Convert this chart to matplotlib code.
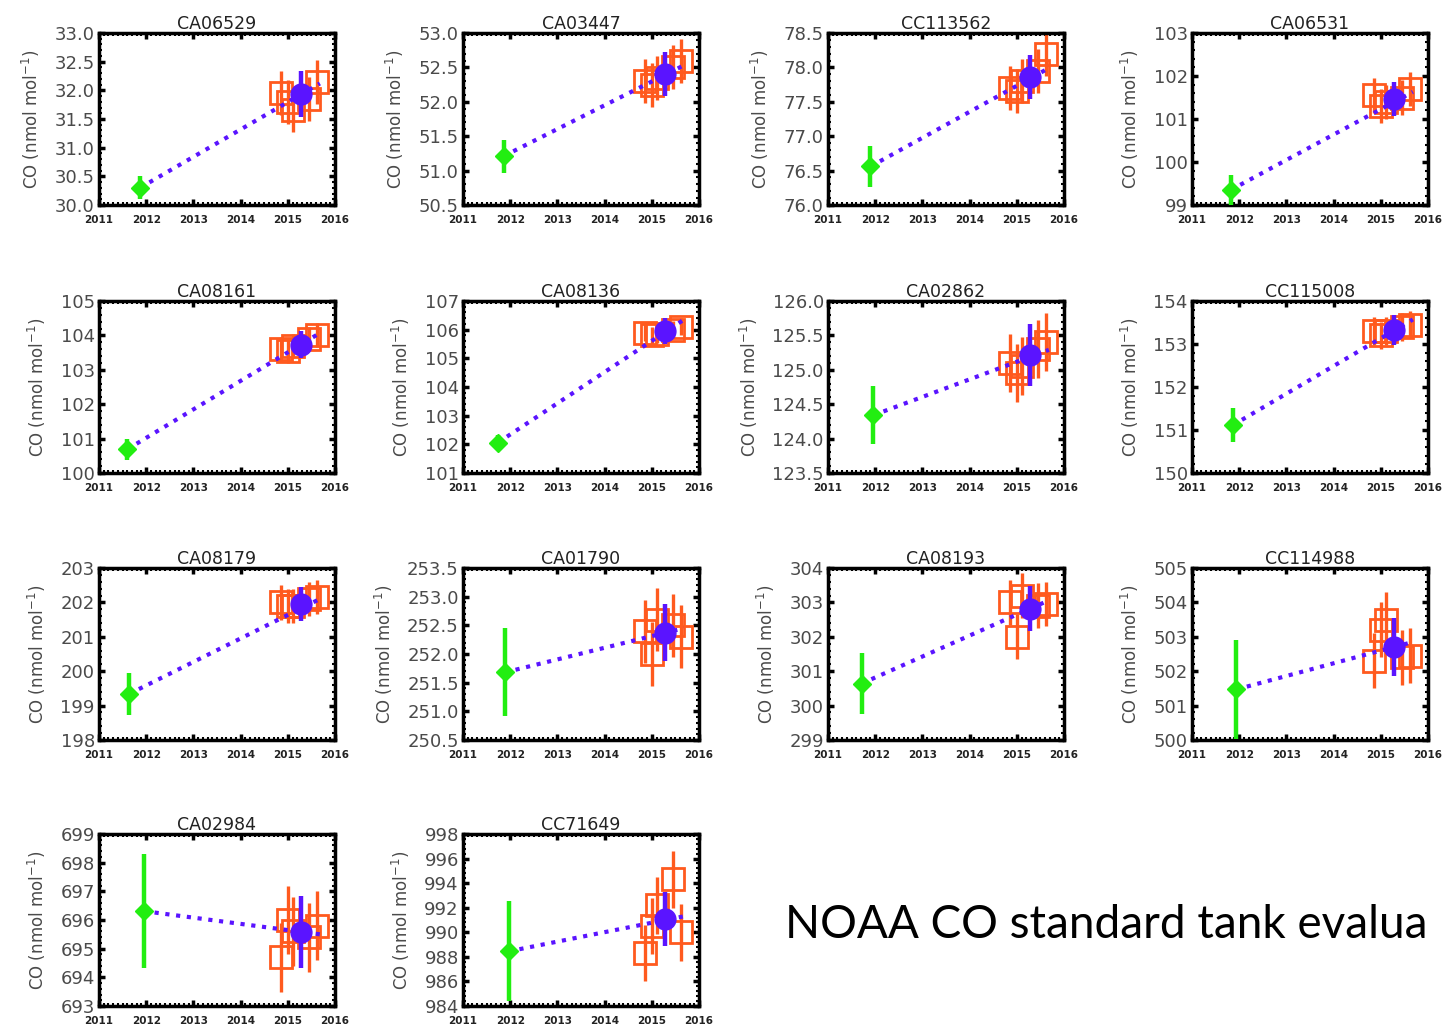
import matplotlib
matplotlib.use("Agg")
import matplotlib.pyplot as plt
import numpy as np
from matplotlib.ticker import MultipleLocator, FormatStrFormatter, AutoMinorLocator

TANKS = ["CA06529", "CA03447", "CC113562", "CA06531",
         "CA08161", "CA08136", "CA02862", "CC115008",
         "CA08179", "CA01790", "CA08193", "CC114988",
         "CA02984", "CC71649"]

YLIM_LO = [30.0, 50.5, 76.0, 99, 100, 101, 123.5, 150, 198, 250.5, 299, 500, 693, 984]
YLIM_HI = [33.0, 53.0, 78.5, 103, 105, 107, 126.0, 154, 203, 253.5, 304, 505, 699, 998]
YTICK_STEP = [0.5, 0.5, 0.5, 1, 1, 1, 0.5, 1, 1, 0.5, 1, 1, 1, 2]
YTICK_DEC = [1, 1, 1, 0, 0, 0, 1, 0, 0, 1, 0, 0, 0, 0]

GREEN_X = [2011.87, 2011.86, 2011.9, 2011.82, 2011.6, 2011.74, 2011.96, 2011.86,
           2011.64, 2011.89, 2011.71, 2011.94, 2011.95, 2011.97]
GREEN_Y = [30.3, 51.21, 76.56, 99.35, 100.69, 102.06, 124.34, 151.11,
           199.34, 251.68, 300.64, 501.47, 696.31, 988.45]
GREEN_ERR = [0.2, 0.24, 0.3, 0.35, 0.3, 0.25, 0.42, 0.4,
             0.6, 0.77, 0.88, 1.45, 2.0, 4.07]

BLUE_X = 2015.27
BLUE_Y = [31.93, 52.41, 77.86, 101.47, 103.73, 105.94, 125.22, 153.33,
          201.95, 252.37, 302.82, 502.7, 695.57, 991.07]
BLUE_ERR = [0.4, 0.32, 0.32, 0.4, 0.4, 0.45, 0.45, 0.35,
            0.5, 0.5, 0.65, 0.85, 1.25, 2.2]

ORANGE_X = [2014.85, 2015.0, 2015.12, 2015.45, 2015.62]
ORANGE_Y = [
    [31.95, 31.8, 31.65, 31.85, 32.15],
    [52.3, 52.25, 52.35, 52.5, 52.6],
    [77.7, 77.65, 77.8, 77.95, 78.2],
    [101.55, 101.3, 101.4, 101.5, 101.7],
    [103.6, 103.55, 103.7, 103.9, 104.0],
    [105.9, 105.8, 105.85, 106.0, 106.1],
    [125.1, 124.95, 125.05, 125.3, 125.4],
    [153.3, 153.2, 153.3, 153.4, 153.45],
    [202.0, 201.9, 201.9, 202.1, 202.15],
    [252.4, 252.0, 252.6, 252.5, 252.3],
    [303.0, 302.0, 303.2, 302.9, 302.95],
    [502.3, 503.2, 503.5, 502.4, 502.45],
    [694.7, 696.0, 695.6, 695.4, 695.8],
    [988.3, 990.5, 992.2, 994.3, 990.0],
]
ORANGE_ERR = [0.38, 0.32, 0.32, 0.4, 0.35, 0.3, 0.42, 0.32,
              0.5, 0.55, 0.65, 0.8, 1.2, 2.3]

LINE_END_X = 2015.68
LINE_END_Y = [32.12, 52.53, 77.99, 101.63, 104.07, 106.35, 125.29, 153.57,
              202.1, 252.45, 303.06, 502.85, 695.5, 991.3]

XTICKS = [2011, 2012, 2013, 2014, 2015, 2016]

GREEN = "#22ee11"
BLUE = "#5a14ff"
ORANGE = "#ff5a1e"
GRAY = "#4a4a4a"

W, H = 1448, 1032
fig = plt.figure(figsize=(W / 100, H / 100), dpi=100)

col_left = [99, 463, 828, 1192]
row_top = [33, 301, 568, 834]
aw, ah = 236, 172

for i, name in enumerate(TANKS):
    r, c = divmod(i, 4)
    l = col_left[c]
    t = row_top[r]
    ax = fig.add_axes([l / W, 1 - (t + ah) / H, aw / W, ah / H])

    ax.plot([GREEN_X[i], LINE_END_X], [GREEN_Y[i], LINE_END_Y[i]],
            linestyle=(0, (1, 1.6)), color=BLUE, lw=3, zorder=3)

    for ox, oy in zip(ORANGE_X, ORANGE_Y[i]):
        ax.errorbar(ox, oy, yerr=ORANGE_ERR[i], fmt="s", ms=16, mfc="none",
                    mec=ORANGE, mew=2, ecolor=ORANGE, elinewidth=2.4,
                    capsize=0, zorder=2)

    ax.errorbar(GREEN_X[i], GREEN_Y[i], yerr=GREEN_ERR[i], fmt="D", ms=9,
                color=GREEN, mec=GREEN, ecolor=GREEN, elinewidth=3.2,
                capsize=0, zorder=4)
    ax.errorbar(BLUE_X, BLUE_Y[i], yerr=BLUE_ERR[i], fmt="o", ms=15,
                color=BLUE, mec=BLUE, ecolor=BLUE, elinewidth=3.2,
                capsize=0, zorder=5)

    ax.set_xlim(2011, 2016)
    ax.set_ylim(YLIM_LO[i], YLIM_HI[i])
    ax.set_xticks(XTICKS)
    ax.set_xticklabels([str(x) for x in XTICKS], fontsize=7.5, color="#222222",
                       fontweight="bold")
    ax.yaxis.set_major_locator(MultipleLocator(YTICK_STEP[i]))
    ax.yaxis.set_major_formatter(FormatStrFormatter("%%.%df" % YTICK_DEC[i]))
    ax.xaxis.set_minor_locator(AutoMinorLocator(10))
    ax.yaxis.set_minor_locator(AutoMinorLocator(5))
    ax.tick_params(axis="both", which="major", direction="in", length=4,
                   width=2.5, top=True, right=True, color="black")
    ax.tick_params(axis="both", which="minor", direction="in", length=2,
                   width=1.5, top=True, right=True, color="black")
    ax.tick_params(axis="y", labelsize=13, labelcolor=GRAY, pad=3)
    ax.tick_params(axis="x", pad=7)
    for s in ax.spines.values():
        s.set_linewidth(2.5)
        s.set_color("black")
    ax.set_title(name, fontsize=12.5, color="#222222", pad=3)
    ax.set_ylabel("CO (nmol mol$^{-1}$)", fontsize=12, color=GRAY, labelpad=9)

# The reference shows this caption running off the right edge; only the visible part is kept
fig.text(785 / W, 1 - 925 / H, "NOAA CO standard tank evalua",
         fontsize=33, family="Lato", va="center", ha="left", color="black")

fig.savefig("out.png", dpi=100)
